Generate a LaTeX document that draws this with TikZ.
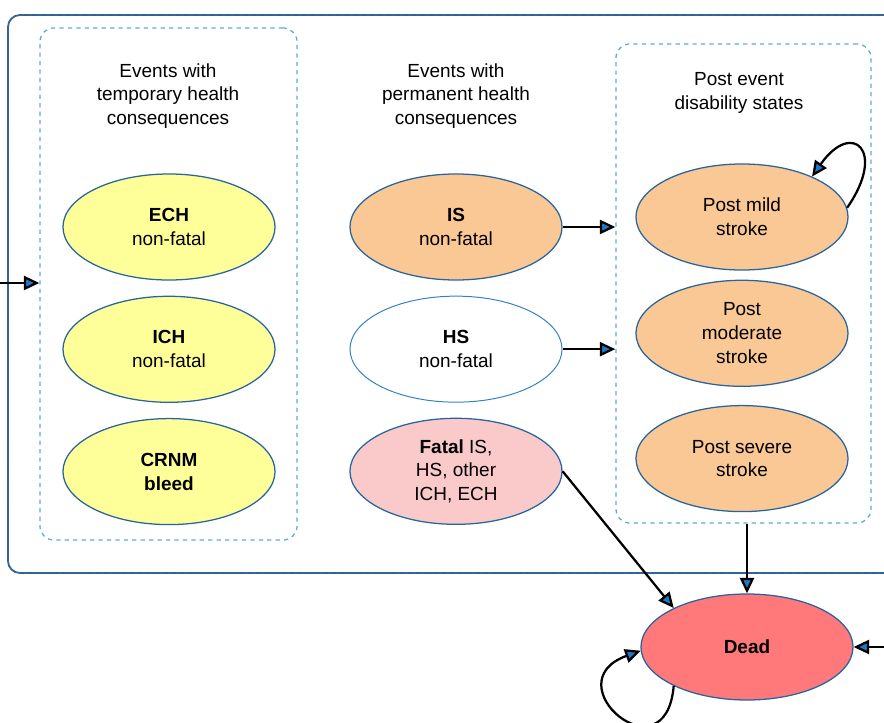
\documentclass[tikz,border=0pt]{standalone}
\usepackage{fontspec}
\setmainfont{Liberation Sans}
\usetikzlibrary{positioning,arrows.meta,shapes.geometric}

\definecolor{bleedyellow}{RGB}{255,255,153}
\definecolor{strokeorange}{RGB}{250,200,148}
\definecolor{fatalpink}{RGB}{250,202,202}
\definecolor{deadred}{RGB}{255,120,122}
\definecolor{rimblue}{RGB}{40,100,160}
\definecolor{hsblue}{RGB}{50,130,200}
\definecolor{groupblue}{RGB}{90,170,220}
\definecolor{tipblue}{RGB}{30,120,200}
\definecolor{framegray}{RGB}{100,100,100}

\begin{document}
\begin{tikzpicture}[x=0.025cm, y=-0.025cm,
      state/.style = {ellipse, draw=rimblue, line width=0.9pt,
                      minimum width=5.3cm, minimum height=2.65cm,
                      inner sep=0pt, align=center,
                      font=\fontsize{13.5}{17}\selectfont},
      group/.style = {draw=groupblue, dashed, line width=0.9pt,
                      rounded corners=0.35cm, inner sep=0pt},
      title/.style = {align=center, font=\fontsize{13.5}{16.5}\selectfont},
      arrow/.style = {-{Triangle[fill=tipblue, length=11pt, width=10pt]},
                      line width=1.6pt, black},
      node distance=0.375cm
    ]
    \useasboundingbox (0,0) rectangle (884,723);

    % Outer frame
    \draw[rimblue, line width=1.3pt, rounded corners=0.3cm] (8,15) rectangle (940,573);
    \draw[framegray, dashed, line width=0.5pt, rounded corners=0.3cm] (8,15) rectangle (940,573);

    % Groups
    \node[group, minimum width=6.425cm, minimum height=12.8cm] (temp) at (168.5,284) {};
    \node[group, minimum width=6.375cm, minimum height=11.975cm] (post) at (743.5,283.5) {};

    % Titles
    \node[title] (temptitle) at (168,96) {Events with\\temporary health\\consequences};
    \node[title] (permtitle) at (456,96) {Events with\\permanent health\\consequences};
    \node[title] (posttitle) at (739,93) {Post event\\disability states};

    % States
    \node[state, fill=bleedyellow] (ech) at (169,227) {\textbf{ECH}\\non-fatal};
    \node[state, fill=bleedyellow, below=of ech] (ich) {\textbf{ICH}\\non-fatal};
    \node[state, fill=bleedyellow, below=of ich] (crnm) {\textbf{CRNM}\\\textbf{bleed}};

    \node[state, fill=strokeorange] (is) at (456,227) {\textbf{IS}\\non-fatal};
    \node[state, draw=hsblue, line width=0.7pt, fill=white, below=of is] (hs) {\textbf{HS}\\non-fatal};
    \node[state, fill=fatalpink, below=of hs] (fatal) {\textbf{Fatal} IS,\\HS, other\\ICH, ECH};

    \node[state, fill=strokeorange] (mild) at (742,217) {Post mild\\stroke};
    \node[state, fill=strokeorange, below=0.225cm of mild] (moderate) {Post\\moderate\\stroke};
    \node[state, fill=strokeorange, below=0.45cm of moderate] (severe) {Post severe\\stroke};

    \node[state, fill=deadred] (dead) at (747,647) {\textbf{Dead}};

    % Entry points
    \coordinate (entryleft) at (0,283);
    \coordinate (entryright) at (884,647);

    % Arrows
    \draw[arrow] (entryleft) -- (temp.west |- entryleft);
    \draw[arrow] (is) -- (is -| post.west);
    \draw[arrow] (hs) -- (hs -| post.west);
    \draw[arrow] (fatal.east) -- (dead.152);
    \draw[arrow] (post.south -| dead) -- (dead);
    \draw[arrow] (entryright) -- (dead);
    \draw[arrow] (mild.5) to[out=55, in=55, looseness=3.8] (mild.30);
    \draw[arrow] (dead.208) to[out=-95, in=200, looseness=5] (dead.182);
  \end{tikzpicture}
\end{document}
